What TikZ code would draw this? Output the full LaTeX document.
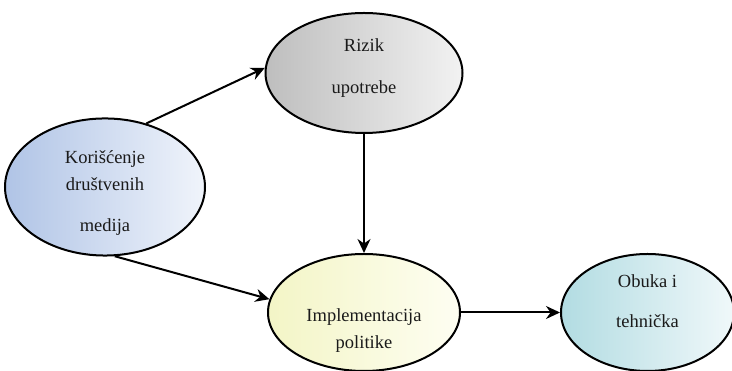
\documentclass[tikz,border=0pt]{standalone}
\usepackage{fontspec}
\setmainfont{Liberation Serif}
\usetikzlibrary{arrows.meta,positioning,shapes.geometric}

\definecolor{txtgray}{HTML}{1A1A1A}

\begin{document}
\begin{tikzpicture}[
  x=1pt, y=1pt,
  bubble/.style={ellipse, draw, line width=2pt, align=center, inner sep=0pt,
                 text=txtgray, font=\fontsize{18.5}{27}\selectfont},
  flow/.style={-{Stealth[length=14pt, width=13pt]}, line width=2pt}
]
  \useasboundingbox (0,0) rectangle (732,371);

  \node[bubble, minimum width=200pt, minimum height=119pt,
        left color={rgb,255:red,176;green,196;blue,230}, right color={rgb,255:red,240;green,244;blue,251}]
        (socmed) at (105,184) {\mbox{}\\[-2pt]Korišćenje\\društvenih\\[14pt]medija};
  \node[bubble, minimum width=197pt, minimum height=120pt,
        left color={rgb,255:red,190;green,190;blue,190}, right color={rgb,255:red,242;green,242;blue,242}]
        (rizik) at (364,298) {Rizik\\[15pt]upotrebe\\[-13pt]\mbox{}};
  \node[bubble, minimum width=192pt, minimum height=117pt, below=119pt of rizik,
        left color={rgb,255:red,243;green,245;blue,198}, right color={rgb,255:red,254;green,254;blue,242}]
        (impl) {\mbox{}\\[22pt]Implementacija\\politike};
  \node[bubble, minimum width=173pt, minimum height=117pt, right=99pt of impl,
        left color={rgb,255:red,178;green,220;blue,226}, right color={rgb,255:red,240;green,248;blue,250}]
        (obuka) {Obuka i\\[13pt]tehnička\\[-5pt]\mbox{}};

  \draw[flow] (socmed.57) -- (rizik.177);
  \draw[flow] (socmed.278) -- (impl.172);
  \draw[flow] (rizik) -- (impl);
  \draw[flow] (impl) -- (obuka);
\end{tikzpicture}
\end{document}
